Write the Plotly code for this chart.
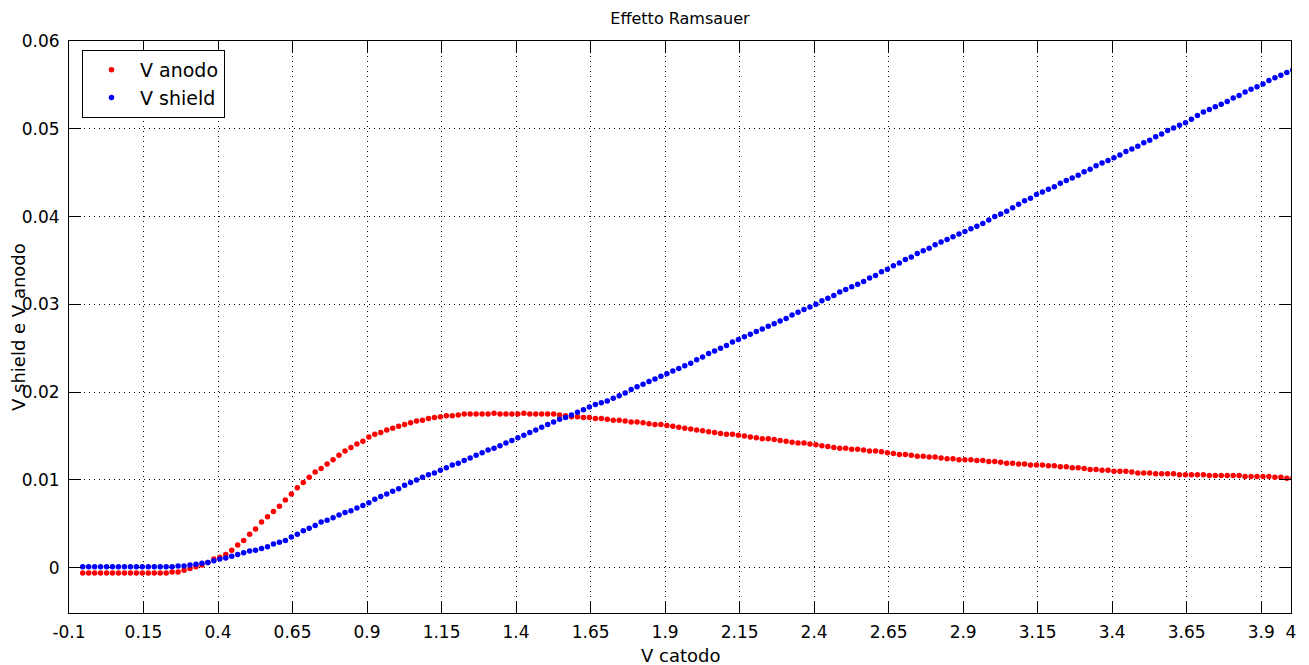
import plotly.graph_objects as go

# V catodo (x) values
v_catodo = [
    -0.054, -0.034, -0.014, 0.006, 0.026, 0.046, 0.066, 0.086, 0.106, 0.126,
    0.146, 0.166, 0.186, 0.206, 0.226, 0.246, 0.266, 0.286, 0.306, 0.326,
    0.346, 0.366, 0.386, 0.406, 0.426, 0.446, 0.466, 0.486, 0.506, 0.526,
    0.546, 0.566, 0.586, 0.606, 0.626, 0.646, 0.666, 0.686, 0.706, 0.726,
    0.746, 0.766, 0.786, 0.806, 0.826, 0.846, 0.866, 0.886, 0.906, 0.926,
    0.946, 0.966, 0.986, 1.006, 1.026, 1.046, 1.066, 1.086, 1.106, 1.126,
    1.146, 1.166, 1.186, 1.206, 1.226, 1.246, 1.266, 1.286, 1.306, 1.326,
    1.346, 1.366, 1.386, 1.406, 1.426, 1.446, 1.466, 1.486, 1.506, 1.526,
    1.546, 1.566, 1.586, 1.606, 1.626, 1.646, 1.666, 1.686, 1.706, 1.726,
    1.746, 1.766, 1.786, 1.806, 1.826, 1.846, 1.866, 1.886, 1.906, 1.926,
    1.946, 1.966, 1.986, 2.006, 2.026, 2.046, 2.066, 2.086, 2.106, 2.126,
    2.146, 2.166, 2.186, 2.206, 2.226, 2.246, 2.266, 2.286, 2.306, 2.326,
    2.346, 2.366, 2.386, 2.406, 2.426, 2.446, 2.466, 2.486, 2.506, 2.526,
    2.546, 2.566, 2.586, 2.606, 2.626, 2.646, 2.666, 2.686, 2.706, 2.726,
    2.746, 2.766, 2.786, 2.806, 2.826, 2.846, 2.866, 2.886, 2.906, 2.926,
    2.946, 2.966, 2.986, 3.006, 3.026, 3.046, 3.066, 3.086, 3.106, 3.126,
    3.146, 3.166, 3.186, 3.206, 3.226, 3.246, 3.266, 3.286, 3.306, 3.326,
    3.346, 3.366, 3.386, 3.406, 3.426, 3.446, 3.466, 3.486, 3.506, 3.526,
    3.546, 3.566, 3.586, 3.606, 3.626, 3.646, 3.666, 3.686, 3.706, 3.726,
    3.746, 3.766, 3.786, 3.806, 3.826, 3.846, 3.866, 3.886, 3.906, 3.926,
    3.946, 3.966, 3.986, 4.006,
]

# V anodo values
v_anodo = [
    -0.0006, -0.0006, -0.0006, -0.0006, -0.0006, -0.0006, -0.0006, -0.0006, -0.0006, -0.0006,
    -0.0006, -0.0006, -0.0006, -0.0006, -0.0006, -0.0005, -0.0005, -0.0003, -0.0001, 0.0001,
    0.0003, 0.0006, 0.0010, 0.0012, 0.0015, 0.0020, 0.0026, 0.0031, 0.0038, 0.0044,
    0.0052, 0.0058, 0.0064, 0.0070, 0.0077, 0.0084, 0.0091, 0.0097, 0.0103, 0.0109,
    0.0113, 0.0118, 0.0123, 0.0128, 0.0133, 0.0137, 0.0141, 0.0144, 0.0149, 0.0152,
    0.0154, 0.0157, 0.0159, 0.0161, 0.0163, 0.0165, 0.0167, 0.0168, 0.0170, 0.0171,
    0.0172, 0.0173, 0.0173, 0.0174, 0.0175, 0.0175, 0.0175, 0.0175, 0.0175, 0.0176,
    0.0175, 0.0175, 0.0175, 0.0175, 0.0176, 0.0175, 0.0175, 0.0175, 0.0175, 0.0175,
    0.0174, 0.0173, 0.0172, 0.0172, 0.0171, 0.0171, 0.0170, 0.0170, 0.0169, 0.0168,
    0.0168, 0.0167, 0.0166, 0.0166, 0.0165, 0.0164, 0.0163, 0.0163, 0.0162, 0.0161,
    0.0160, 0.0159, 0.0158, 0.0157, 0.0156, 0.0155, 0.0154, 0.0153, 0.0152, 0.0152,
    0.0151, 0.0150, 0.0149, 0.0148, 0.0147, 0.0147, 0.0146, 0.0145, 0.0144, 0.0143,
    0.0142, 0.0142, 0.0141, 0.0140, 0.0139, 0.0138, 0.0137, 0.0136, 0.0136, 0.0135,
    0.0135, 0.0134, 0.0133, 0.0133, 0.0132, 0.0131, 0.0130, 0.0129, 0.0129, 0.0128,
    0.0127, 0.0127, 0.0126, 0.0126, 0.0125, 0.0124, 0.0124, 0.0123, 0.0123, 0.0123,
    0.0122, 0.0122, 0.0121, 0.0121, 0.0120, 0.0119, 0.0119, 0.0118, 0.0118, 0.0117,
    0.0117, 0.0117, 0.0116, 0.0116, 0.0115, 0.0115, 0.0114, 0.0114, 0.0113, 0.0112,
    0.0112, 0.0111, 0.0111, 0.0110, 0.0110, 0.0110, 0.0109, 0.0108, 0.0108, 0.0108,
    0.0107, 0.0107, 0.0107, 0.0107, 0.0106, 0.0106, 0.0106, 0.0106, 0.0106, 0.0105,
    0.0105, 0.0105, 0.0105, 0.0105, 0.0105, 0.0104, 0.0104, 0.0104, 0.0104, 0.0104,
    0.0103, 0.0103, 0.0102, 0.0102,
]

# V shield values
v_shield = [
    0.0001, 0.0001, 0.0001, 0.0001, 0.0001, 0.0001, 0.0001, 0.0001, 0.0001, 0.0001,
    0.0001, 0.0001, 0.0001, 0.0001, 0.0001, 0.0001, 0.0002, 0.0002, 0.0003, 0.0004,
    0.0005, 0.0006, 0.0008, 0.0010, 0.0011, 0.0013, 0.0015, 0.0017, 0.0019, 0.0020,
    0.0022, 0.0024, 0.0027, 0.0029, 0.0031, 0.0035, 0.0038, 0.0042, 0.0045, 0.0048,
    0.0052, 0.0054, 0.0057, 0.0060, 0.0063, 0.0065, 0.0068, 0.0071, 0.0074, 0.0078,
    0.0081, 0.0084, 0.0087, 0.0090, 0.0094, 0.0097, 0.0100, 0.0103, 0.0106, 0.0108,
    0.0111, 0.0114, 0.0117, 0.0119, 0.0122, 0.0125, 0.0128, 0.0131, 0.0134, 0.0136,
    0.0139, 0.0142, 0.0145, 0.0148, 0.0151, 0.0154, 0.0157, 0.0160, 0.0163, 0.0166,
    0.0169, 0.0171, 0.0174, 0.0177, 0.0180, 0.0183, 0.0186, 0.0188, 0.0190, 0.0193,
    0.0196, 0.0199, 0.0203, 0.0206, 0.0209, 0.0212, 0.0215, 0.0218, 0.0221, 0.0224,
    0.0227, 0.0230, 0.0233, 0.0237, 0.0240, 0.0244, 0.0247, 0.0250, 0.0253, 0.0257,
    0.0260, 0.0263, 0.0266, 0.0269, 0.0272, 0.0275, 0.0278, 0.0281, 0.0284, 0.0288,
    0.0291, 0.0294, 0.0297, 0.0300, 0.0304, 0.0307, 0.0310, 0.0314, 0.0317, 0.0320,
    0.0323, 0.0326, 0.0330, 0.0333, 0.0337, 0.0340, 0.0344, 0.0347, 0.0351, 0.0354,
    0.0358, 0.0361, 0.0364, 0.0368, 0.0371, 0.0374, 0.0377, 0.0380, 0.0383, 0.0386,
    0.0389, 0.0392, 0.0396, 0.0400, 0.0403, 0.0406, 0.0410, 0.0414, 0.0418, 0.0421,
    0.0425, 0.0428, 0.0431, 0.0434, 0.0438, 0.0441, 0.0444, 0.0447, 0.0451, 0.0454,
    0.0458, 0.0461, 0.0464, 0.0467, 0.0470, 0.0474, 0.0477, 0.0480, 0.0484, 0.0487,
    0.0491, 0.0494, 0.0498, 0.0501, 0.0504, 0.0507, 0.0511, 0.0515, 0.0519, 0.0522,
    0.0525, 0.0528, 0.0531, 0.0535, 0.0538, 0.0542, 0.0545, 0.0548, 0.0551, 0.0555,
    0.0558, 0.0561, 0.0564, 0.0567,
]

x_tickvals = [-0.1, 0.15, 0.4, 0.65, 0.9, 1.15, 1.4, 1.65, 1.9, 2.15, 2.4, 2.65,
              2.9, 3.15, 3.4, 3.65, 3.9, 4.0]
x_ticktext = ["-0.1", "0.15", "0.4", "0.65", "0.9", "1.15", "1.4", "1.65", "1.9",
              "2.15", "2.4", "2.65", "2.9", "3.15", "3.4", "3.65", "3.9", "4"]
y_tickvals = [0, 0.01, 0.02, 0.03, 0.04, 0.05, 0.06]
y_ticktext = ["0", "0.01", "0.02", "0.03", "0.04", "0.05", "0.06"]

FONT = "DejaVu Sans"

fig = go.Figure()
fig.add_trace(go.Scatter(x=v_catodo, y=v_anodo, mode="markers", name="V anodo",
                         marker=dict(color="#ff0000", size=5.5, line=dict(width=0))))
fig.add_trace(go.Scatter(x=v_catodo, y=v_shield, mode="markers", name="V shield",
                         marker=dict(color="#0000ff", size=5.5, line=dict(width=0))))

axis_common = dict(
    showline=True, linecolor="#000000", linewidth=1, mirror="ticks",
    ticks="inside", ticklen=12, tickcolor="#000000", tickwidth=1,
    showgrid=True, gridcolor="#000000", gridwidth=1, griddash="1px,4px",
    zeroline=False, tickfont=dict(family=FONT, size=17, color="#000000"),
)

fig.update_xaxes(range=[-0.1, 4.0], tickmode="array", tickvals=x_tickvals,
                 ticktext=x_ticktext, ticklabelstandoff=4, **axis_common)
fig.update_yaxes(range=[-0.00516, 0.06], tickmode="array", tickvals=y_tickvals,
                 ticktext=y_ticktext, ticklabelstandoff=5, **axis_common)

fig.update_layout(
    width=1309, height=665,
    margin=dict(l=69, r=18, t=41, b=52),
    paper_bgcolor="#ffffff", plot_bgcolor="#ffffff",
    font=dict(family=FONT, size=17, color="#000000"),
    title=dict(text="Effetto Ramsauer", x=(69 + 1291) / 2 / 1309, xanchor="center",
               y=1 - 18 / 665, yanchor="middle", font=dict(family=FONT, size=16)),
    legend=dict(x=13 / 1222, y=1 - 9 / 572, xanchor="left", yanchor="top",
                bgcolor="#ffffff", bordercolor="#000000", borderwidth=1,
                font=dict(family=FONT, size=19), itemwidth=47, tracegroupgap=2),
    showlegend=True,
    annotations=[
        dict(text="V catodo", xref="paper", yref="paper", x=0.5, y=-(655 - 613) / 572,
             xanchor="center", yanchor="middle", showarrow=False,
             font=dict(family=FONT, size=18)),
        dict(text="V shield e V anodo", xref="paper", yref="paper",
             x=-(69 - 18) / 1222, y=0.5, xanchor="center", yanchor="middle",
             textangle=-90, showarrow=False, font=dict(family=FONT, size=18)),
    ],
)

fig.write_html("out.html")
